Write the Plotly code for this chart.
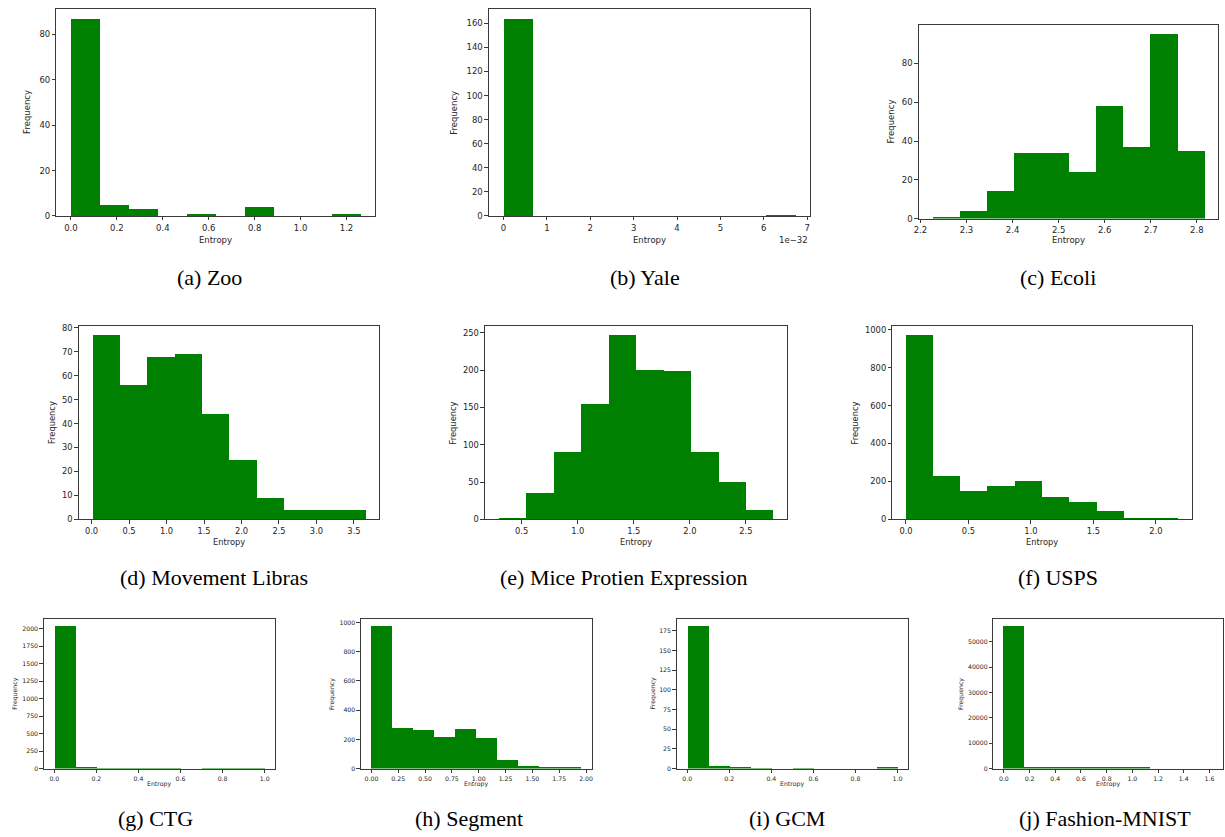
import numpy as np
import plotly.graph_objects as go

W, H = 1225, 837

# ---------------- data (histogram counts, 10 bins each) ----------------
names = ["(a) Zoo", "(b) Yale", "(c) Ecoli",
         "(d) Movement Libras", "(e) Mice Protien Expression", "(f) USPS",
         "(g) CTG", "(h) Segment", "(i) GCM", "(j) Fashion-MNIST"]

zoo_counts = [87, 5, 3, 0, 1, 0, 4, 0, 0, 1]
zoo_range = (0.0, 1.263)
yale_counts = [164, 0, 0, 0, 0, 0, 0, 0, 0, 1]
yale_range = (0.0, 6.73)          # in units of 1e-32
ecoli_counts = [1, 4, 14, 34, 34, 24, 58, 37, 95, 35]
ecoli_range = (2.226, 2.817)
libras_counts = [77, 56, 68, 69, 44, 25, 9, 4, 4, 4]
libras_range = (0.01, 3.654)
mice_counts = [2, 36, 91, 155, 247, 201, 199, 91, 50, 13]
mice_range = (0.295, 2.745)
usps_counts = [972, 229, 151, 174, 201, 116, 92, 47, 9, 9]
usps_range = (0.0, 2.183)
ctg_counts = [2040, 25, 12, 12, 12, 12, 0, 10, 10, 10]
ctg_range = (0.0, 1.0)
segment_counts = [977, 279, 265, 218, 274, 209, 61, 20, 7, 7]
segment_range = (0.0, 1.954)
gcm_counts = [181, 3, 2, 1, 0, 1, 0, 0, 0, 2]
gcm_range = (0.0, 1.0)
fmnist_counts = [56300, 800, 560, 560, 560, 560, 560, 0, 0, 2]
fmnist_range = (0.0, 1.624)

# tick labels
zoo_xticks = [0.0, 0.2, 0.4, 0.6, 0.8, 1.0, 1.2]
zoo_yticks = [0, 20, 40, 60, 80]
yale_xticks = [0, 1, 2, 3, 4, 5, 6, 7]
yale_yticks = [0, 20, 40, 60, 80, 100, 120, 140, 160]
ecoli_xticks = [2.2, 2.3, 2.4, 2.5, 2.6, 2.7, 2.8]
ecoli_yticks = [0, 20, 40, 60, 80]
libras_xticks = [0.0, 0.5, 1.0, 1.5, 2.0, 2.5, 3.0, 3.5]
libras_yticks = [0, 10, 20, 30, 40, 50, 60, 70, 80]
mice_xticks = [0.5, 1.0, 1.5, 2.0, 2.5]
mice_yticks = [0, 50, 100, 150, 200, 250]
usps_xticks = [0.0, 0.5, 1.0, 1.5, 2.0]
usps_yticks = [0, 200, 400, 600, 800, 1000]
ctg_xticks = [0.0, 0.2, 0.4, 0.6, 0.8, 1.0]
ctg_yticks = [0, 250, 500, 750, 1000, 1250, 1500, 1750, 2000]
segment_xticks = [0.0, 0.25, 0.5, 0.75, 1.0, 1.25, 1.5, 1.75, 2.0]
segment_yticks = [0, 200, 400, 600, 800, 1000]
gcm_xticks = [0.0, 0.2, 0.4, 0.6, 0.8, 1.0]
gcm_yticks = [0, 25, 50, 75, 100, 125, 150, 175]
fmnist_xticks = [0.0, 0.2, 0.4, 0.6, 0.8, 1.0, 1.2, 1.4, 1.6]
fmnist_yticks = [0, 10000, 20000, 30000, 40000, 50000]

panels = [
    (zoo_counts, zoo_range, zoo_xticks, zoo_yticks, "{:.1f}"),
    (yale_counts, yale_range, yale_xticks, yale_yticks, "{:d}"),
    (ecoli_counts, ecoli_range, ecoli_xticks, ecoli_yticks, "{:.1f}"),
    (libras_counts, libras_range, libras_xticks, libras_yticks, "{:.1f}"),
    (mice_counts, mice_range, mice_xticks, mice_yticks, "{:.1f}"),
    (usps_counts, usps_range, usps_xticks, usps_yticks, "{:.1f}"),
    (ctg_counts, ctg_range, ctg_xticks, ctg_yticks, "{:.1f}"),
    (segment_counts, segment_range, segment_xticks, segment_yticks, "{:.2f}"),
    (gcm_counts, gcm_range, gcm_xticks, gcm_yticks, "{:.1f}"),
    (fmnist_counts, fmnist_range, fmnist_xticks, fmnist_yticks, "{:.1f}"),
]

# ---------------- layout (pixel boxes: left, right, top, bottom) ----------------
boxes = [
    (51.7, 372.3, 5.7, 215.0),
    (486.3, 809.0, 5.7, 215.0),
    (918.3, 1219.3, 22.3, 217.7),
    (74.0, 376.0, 326.0, 521.3),
    (482.3, 786.0, 326.0, 521.3),
    (891.7, 1193.3, 326.0, 521.3),
    (39.0, 271.5, 621.7, 773.0),
    (357.7, 589.5, 621.7, 773.0),
    (675.0, 907.5, 621.7, 773.0),
    (993.3, 1224.0, 621.7, 773.0),
]
font_sizes = [8.5, 8.5, 8.5, 8.3, 8.3, 8.3, 6.2, 6.2, 6.2, 6.2]
xlabel_y = [239, 239, 239.5, 544, 544, 544, 789, 789, 789, 789]
ylabel_x = [22.7, 451.7, 890, 46.7, 450, 854, 10, 328, 650.7, 960]
caption_pos = [(206, 277), (643, 277), (1058, 277),
               (210, 580), (622, 580), (1058, 580),
               (151, 823), (466, 823), (786, 823), (1105, 823)]

GREEN = "#008000"
SPINE = "#3a3a3a"
TXT = "#262626"

fig = go.Figure()
layout = dict(width=W, height=H, margin=dict(l=0, r=0, t=0, b=0),
              paper_bgcolor="white", plot_bgcolor="white",
              showlegend=False, bargap=0)
annotations = []

def px(x):
    return x / W

def py(y):
    return 1 - y / H

for i, ((counts, (lo, hi), xt, yt, fmt), (l, r, t, b)) in enumerate(zip(panels, boxes)):
    n = i + 1
    edges = np.linspace(lo, hi, len(counts) + 1)
    centers = (edges[:-1] + edges[1:]) / 2
    width = edges[1] - edges[0]
    xa = "x" if n == 1 else f"x{n}"
    ya = "y" if n == 1 else f"y{n}"
    fig.add_trace(go.Bar(x=centers, y=counts, width=width, xaxis=xa, yaxis=ya,
                         marker=dict(color=GREEN, line=dict(width=0)),
                         hoverinfo="x+y"))
    span = hi - lo
    fs = font_sizes[i]
    common = dict(showgrid=False, zeroline=False, showline=True, mirror=True,
                  linecolor=SPINE, linewidth=1, ticks="outside", ticklen=3.5,
                  tickwidth=0.8, tickcolor=SPINE,
                  tickfont=dict(family="DejaVu Sans", size=fs, color=TXT))
    layout["xaxis" if n == 1 else f"xaxis{n}"] = dict(
        common, domain=[px(l), px(r)], anchor=ya,
        range=[lo - 0.05 * span, hi + 0.05 * span],
        tickmode="array", tickvals=xt,
        ticktext=[fmt.format(v) for v in xt])
    layout["yaxis" if n == 1 else f"yaxis{n}"] = dict(
        common, domain=[py(b), py(t)], anchor=xa,
        range=[0, max(counts) * 1.05],
        tickmode="array", tickvals=yt, ticktext=[str(v) for v in yt])
    # axis titles
    annotations.append(dict(text="Entropy", x=px((l + r) / 2), y=py(xlabel_y[i]),
                            xref="paper", yref="paper", showarrow=False,
                            xanchor="center", yanchor="middle",
                            font=dict(family="DejaVu Sans", size=fs, color=TXT)))
    annotations.append(dict(text="Frequency", x=px(ylabel_x[i]), y=py((t + b) / 2),
                            xref="paper", yref="paper", showarrow=False, textangle=-90,
                            xanchor="center", yanchor="middle",
                            font=dict(family="DejaVu Sans", size=fs, color=TXT)))
    cx, cy = caption_pos[i]
    annotations.append(dict(text=names[i], x=px(cx), y=py(cy),
                            xref="paper", yref="paper", showarrow=False,
                            xanchor="center", yanchor="middle",
                            font=dict(family="Liberation Serif", size=22, color="black")))

# offset text for Yale's x axis
annotations.append(dict(text="1e\u221232", x=px(809), y=py(239),
                        xref="paper", yref="paper", showarrow=False,
                        xanchor="right", yanchor="middle",
                        font=dict(family="DejaVu Sans", size=8.5, color=TXT)))

layout["annotations"] = annotations
fig.update_layout(**layout)
fig.write_html("out.html", config={"displayModeBar": False},
               post_script="document.body.style.margin='0';document.body.style.overflow='hidden';")
